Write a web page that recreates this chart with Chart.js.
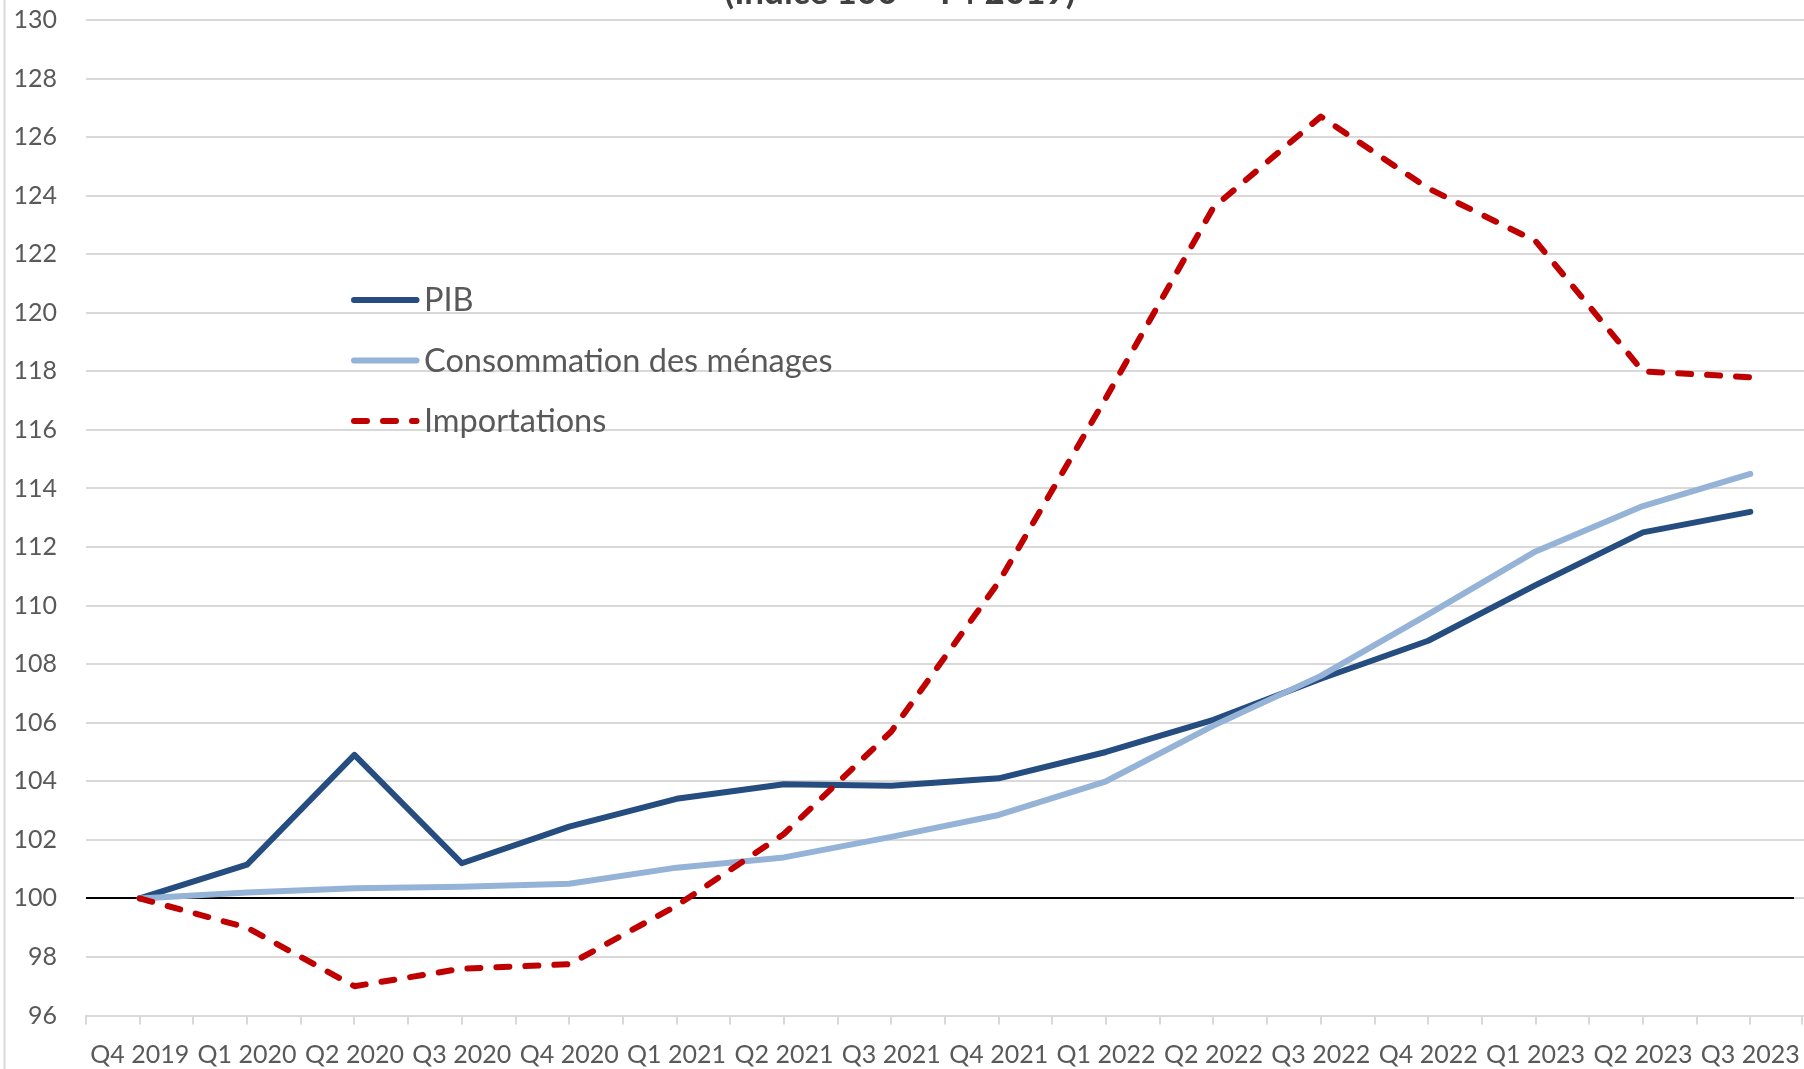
<!DOCTYPE html>
<html>
<head>
<meta charset="utf-8">
<script src="https://cdn.jsdelivr.net/npm/chart.js@4.4.1/dist/chart.umd.min.js"></script>
<style>
html,body{margin:0;padding:0;background:#ffffff;}
#wrap{position:relative;width:1804px;height:1069px;overflow:hidden;}
</style>
</head>
<body>
<div id="wrap"><canvas id="c" width="1804" height="1069"></canvas></div>
<script>
// ---- Data ----
const categories = ['Q4 2019','Q1 2020','Q2 2020','Q3 2020','Q4 2020','Q1 2021','Q2 2021','Q3 2021',
                    'Q4 2021','Q1 2022','Q2 2022','Q3 2022','Q4 2022','Q1 2023','Q2 2023','Q3 2023'];
const pibValues     = [100, 101.15, 104.9, 101.2, 102.45, 103.4, 103.9, 103.85, 104.1, 105.0, 106.1, 107.5, 108.8, 110.7, 112.5, 113.2];
const consoValues   = [100, 100.2, 100.35, 100.4, 100.5, 101.05, 101.4, 102.1, 102.85, 104.0, 105.9, 107.6, 109.7, 111.85, 113.4, 114.5];
const importValues  = [100, 99.0, 97.0, 97.6, 97.75, 99.75, 102.2, 105.7, 110.8, 117.1, 123.6, 126.7, 124.25, 122.45, 118.0, 117.8];
const seriesLabels  = ['PIB', 'Consommation des ménages', 'Importations'];
const yMin = 96, yMax = 130, yStep = 2;
const baseValue = 100;
const titleText = '(Indice 100 = T4 2019)';

const GREY_TEXT = '#595959';
const GRID = '#D9D9D9';
Chart.defaults.font.family = 'Lato';

// ---- Plugins ----
const decorPlugin = {
  id: 'decor',
  beforeDatasetsDraw(chart) {
    const ctx = chart.ctx, ca = chart.chartArea;
    const x = chart.scales.x, y = chart.scales.y;
    ctx.save();
    // reference line at base value
    const yb = Math.round(y.getPixelForValue(baseValue));
    ctx.strokeStyle = '#000000';
    ctx.lineWidth = 2;
    ctx.beginPath();
    ctx.moveTo(ca.left, yb);
    ctx.lineTo(ca.right - 10, yb);
    ctx.stroke();
    // tick marks on x axis (category centres and boundaries)
    const half = (x.getPixelForValue(1) - x.getPixelForValue(0)) / 2;
    ctx.strokeStyle = GRID;
    ctx.lineWidth = 2;
    ctx.beginPath();
    for (let i = 0; i < categories.length; i++) {
      const c = x.getPixelForValue(i);
      [c - half, c].forEach(p => { ctx.moveTo(Math.round(p), ca.bottom); ctx.lineTo(Math.round(p), ca.bottom + 9); });
    }
    const last = x.getPixelForValue(categories.length - 1) + half;
    ctx.moveTo(Math.round(last) - 2, ca.bottom); ctx.lineTo(Math.round(last) - 2, ca.bottom + 9);
    ctx.stroke();
    // left frame line
    ctx.beginPath();
    ctx.moveTo(4.5, 0); ctx.lineTo(4.5, chart.height);
    ctx.stroke();
    ctx.restore();
  },
  afterDraw(chart) {
    const ctx = chart.ctx;
    ctx.save();
    // title (cut at the top edge, as in the reference)
    ctx.font = 'bold 35px Lato';
    ctx.fillStyle = '#404040';
    ctx.textAlign = 'center';
    ctx.textBaseline = 'alphabetic';
    ctx.fillText(titleText, 900, 4);
    // legend
    const ds = chart.data.datasets;
    ctx.font = '32.5px Lato';
    ctx.textAlign = 'left';
    ds.forEach((d, i) => {
      const ly = 300 + i * 60.5;
      ctx.strokeStyle = d.borderColor;
      ctx.lineWidth = 6;
      ctx.lineCap = 'round';
      ctx.setLineDash(d.borderDash || []);
      ctx.beginPath();
      ctx.moveTo(354, ly);
      ctx.lineTo(416.5, ly);
      ctx.stroke();
      ctx.setLineDash([]);
      ctx.fillStyle = GREY_TEXT;
      ctx.fillText(d.label, 424, ly + 11);
    });
    ctx.restore();
  }
};

new Chart(document.getElementById('c'), {
  type: 'line',
  data: {
    labels: categories,
    datasets: [
      { label: seriesLabels[0], data: pibValues, borderColor: '#254D7F', borderWidth: 6,
        pointRadius: 0, tension: 0, borderJoinStyle: 'round', borderCapStyle: 'round', order: 2 },
      { label: seriesLabels[1], data: consoValues, borderColor: '#95B3D7', borderWidth: 6,
        pointRadius: 0, tension: 0, borderJoinStyle: 'round', borderCapStyle: 'round', order: 1 },
      { label: seriesLabels[2], data: importValues, borderColor: '#C00000', borderWidth: 6,
        borderDash: [13, 16], pointRadius: 0, tension: 0, borderJoinStyle: 'round', borderCapStyle: 'round', order: 0 }
    ]
  },
  options: {
    responsive: false,
    animation: false,
    layout: { padding: { left: 13, top: 20, right: 0, bottom: 0 } },
    plugins: { legend: { display: false }, title: { display: false }, tooltip: { enabled: false } },
    scales: {
      x: {
        type: 'category',
        offset: true,
        grid: { display: true, drawOnChartArea: false, drawTicks: false },
        border: { display: true, color: GRID, width: 2 },
        ticks: { autoSkip: false, maxRotation: 0, minRotation: 0, padding: 24, color: GREY_TEXT, font: { size: 25 } },
        afterFit(s) { s.height = 53.5; s.paddingLeft = 0; s.paddingRight = 0; }
      },
      y: {
        min: yMin, max: yMax,
        grid: { color: GRID, lineWidth: 2, drawTicks: false },
        border: { display: false },
        ticks: { stepSize: yStep, padding: 29, color: GREY_TEXT, font: { size: 25 } },
        afterFit(s) { s.width = 73; s.paddingTop = 0; s.paddingBottom = 0; }
      }
    }
  },
  plugins: [decorPlugin]
});
</script>
</body>
</html>
